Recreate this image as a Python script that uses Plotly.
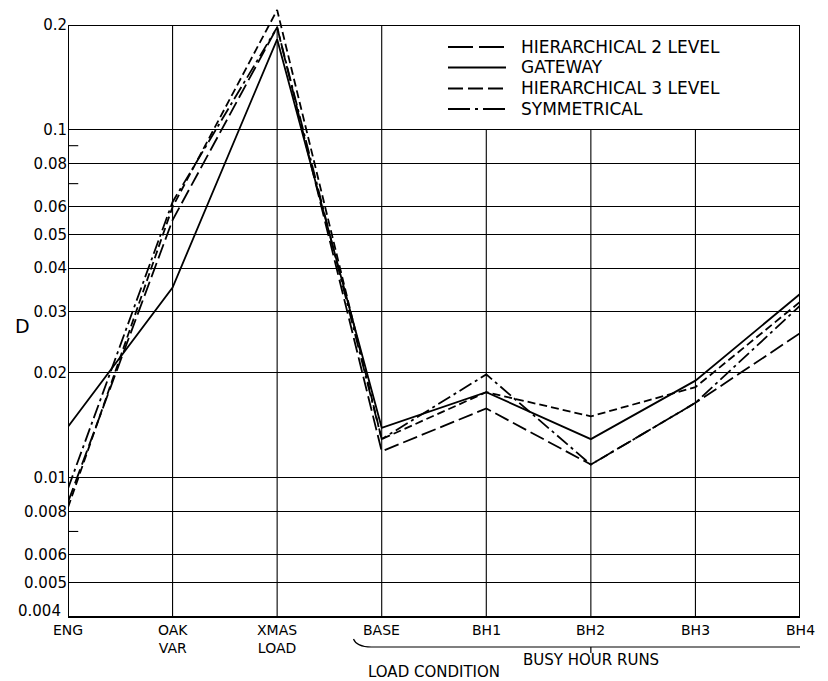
import math
import plotly.graph_objects as go

# ---------------- data ----------------
categories = ["ENG", "OAK<br>VAR", "XMAS<br>LOAD", "BASE", "BH1", "BH2", "BH3", "BH4"]
hier2 = [0.0085, 0.055, 0.197, 0.0119, 0.0158, 0.0109, 0.0164, 0.0260]
gateway = [0.0140, 0.0352, 0.182, 0.0139, 0.0176, 0.0129, 0.0190, 0.0337]
hier3 = [0.0082, 0.060, 0.221, 0.0129, 0.0176, 0.0150, 0.0182, 0.0320]
symmetrical = [0.0093, 0.062, 0.197, 0.0129, 0.0198, 0.0109, 0.0164, 0.0312]
series_names = ["HIERARCHICAL 2 LEVEL", "GATEWAY", "HIERARCHICAL 3 LEVEL", "SYMMETRICAL"]

y_ticks = [0.005, 0.006, 0.008, 0.01, 0.02, 0.03, 0.04, 0.05, 0.06, 0.08, 0.1, 0.2]
y_tick_text = ["0.005", "0.006", "0.008", "0.01", "0.02", "0.03", "0.04",
               "0.05", "0.06", "0.08", "0.1", "0.2"]
bottom_tick_text = "0.004"
minor_ticks = [0.007, 0.07, 0.09]
y_min, y_max = 0.004, 0.2284
grid_top = 0.2
legend_grid_top = 0.1

FONT = "DejaVu Sans"
W, H = 828, 681
ML, MR, MT, MB = 68, 28, 5, 65
PW, PH = W - ML - MR, H - MT - MB


def px_to_paper_x(px):
    return (px - ML) / PW


def px_to_paper_y(py):
    return (H - MB - py) / PH


xs = list(range(len(categories)))

trace_dash = ["15px,5px", "solid", "8px,4px", "14px,4px,3px,4px"]
legend_dash = ["25px,6px", "solid", "15px,5px", "22px,5px,3px,5px"]

fig = go.Figure()
for name, vals, d in zip(series_names, [hier2, gateway, hier3, symmetrical], trace_dash):
    fig.add_trace(go.Scatter(
        x=xs, y=vals, mode="lines", name=name, showlegend=False,
        line=dict(color="black", width=1.8, dash=d),
    ))

shapes = []
annotations = []
# vertical grid lines
for i in xs[1:-1]:
    top = legend_grid_top if i >= 4 else grid_top
    shapes.append(dict(type="line", xref="x", yref="y", x0=i, x1=i, y0=y_min, y1=top,
                       line=dict(color="black", width=1.1), layer="below"))
# left and right borders
for i in (xs[0], xs[-1]):
    shapes.append(dict(type="line", xref="x", yref="y", x0=i, x1=i, y0=y_min, y1=grid_top,
                       line=dict(color="black", width=2), layer="above"))
# minor ticks on the left axis
for v in minor_ticks:
    shapes.append(dict(type="line", xref="paper", yref="y", x0=0, x1=0.014, y0=v, y1=v,
                       line=dict(color="black", width=1.1)))

# bottom tick label (sits slightly raised, as in the reference)
annotations.append(dict(text=bottom_tick_text, xref="paper", yref="paper",
                        x=px_to_paper_x(63), y=px_to_paper_y(611), xanchor="right",
                        yanchor="middle", showarrow=False, font=dict(size=15)))

# manual legend (rows in pixel positions)
legend_rows_px = [47, 67.5, 88.5, 109]
for name, d, ry in zip(series_names, legend_dash, legend_rows_px):
    yy = px_to_paper_y(ry)
    shapes.append(dict(type="line", xref="paper", yref="paper",
                       x0=px_to_paper_x(448), x1=px_to_paper_x(506), y0=yy, y1=yy,
                       line=dict(color="black", width=1.8, dash=d)))
    annotations.append(dict(text=name, xref="paper", yref="paper",
                            x=px_to_paper_x(519), y=yy, xanchor="left", yanchor="middle",
                            showarrow=False, font=dict(size=17)))

# category labels below the axis
for i, lab in zip(xs, categories):
    annotations.append(dict(text=lab, xref="x", yref="paper", x=i,
                            y=px_to_paper_y(620), xanchor="center", yanchor="top",
                            showarrow=False, font=dict(size=14)))

# brace under busy hour runs
by = px_to_paper_y(647)
ey = px_to_paper_y(639)
shapes.append(dict(type="path", xref="x", yref="paper",
                   path=f"M 2.73,{ey} Q 2.76,{by} 2.9,{by} L 7.05,{by} Q 7.2,{by} 7.23,{ey}",
                   line=dict(color="black", width=1.2)))
shapes.append(dict(type="line", xref="x", yref="paper", x0=5, x1=5, y0=by,
                   y1=px_to_paper_y(653), line=dict(color="black", width=1.2)))

annotations += [
    dict(text="D", xref="paper", yref="paper", x=px_to_paper_x(13), y=px_to_paper_y(326),
         showarrow=False, font=dict(size=19)),
    dict(text="BUSY HOUR RUNS", xref="x", yref="paper", x=5, y=px_to_paper_y(660),
         yanchor="middle", showarrow=False, font=dict(size=15)),
    dict(text="LOAD CONDITION", xref="paper", yref="paper", x=0.5, y=px_to_paper_y(672),
         yanchor="middle", showarrow=False, font=dict(size=15)),
]

fig.update_layout(
    width=W, height=H,
    margin=dict(l=ML, r=MR, t=MT, b=MB),
    paper_bgcolor="white", plot_bgcolor="white",
    font=dict(family=FONT, color="black", size=15),
    showlegend=False,
    shapes=shapes,
    annotations=annotations,
    xaxis=dict(range=[0, 7], tickvals=xs, showticklabels=False, showgrid=False,
               zeroline=False, showline=True, linecolor="black", linewidth=2,
               ticks=""),
    yaxis=dict(type="log", range=[math.log10(y_min), math.log10(y_max)],
               tickvals=y_ticks, ticktext=y_tick_text, showgrid=True,
               gridcolor="black", gridwidth=1.1, showline=False, ticks="",
               tickfont=dict(size=15), zeroline=False),
)

fig.write_html("out.html")
